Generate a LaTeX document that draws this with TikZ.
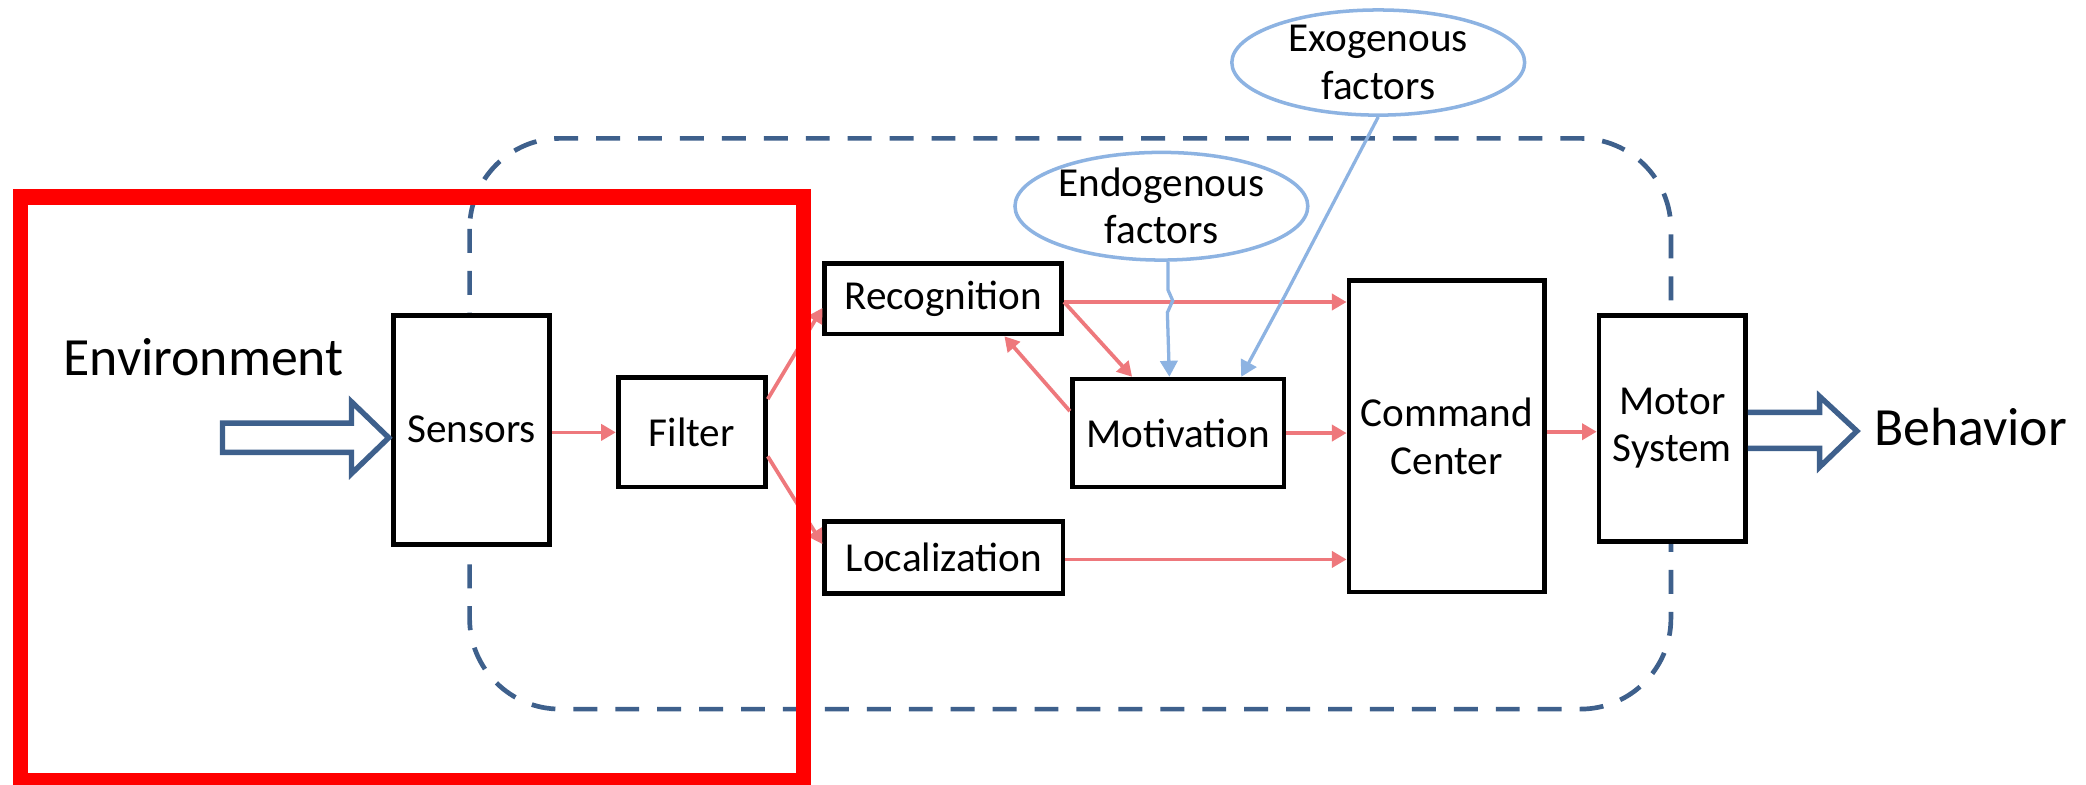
\documentclass[tikz,border=0pt]{standalone}
\usepackage{fontspec}
\setmainfont{Carlito}
\usetikzlibrary{shapes.geometric,arrows.meta,calc}

\definecolor{salmonline}{RGB}{238,120,124}
\definecolor{skyline}{RGB}{141,179,226}
\definecolor{navyline}{RGB}{62,96,140}
\definecolor{framered}{RGB}{255,0,0}

\newcommand{\blockfont}{\fontsize{8.8}{10.1}\selectfont}
\newcommand{\tagfont}{\fontsize{11.5}{13}\selectfont}

\tikzset{
  block/.style={draw=black, line width=1pt, fill=white, inner sep=0pt,
    align=center, font=\blockfont},
  factor/.style={ellipse, draw=skyline, line width=0.75pt, fill=white,
    inner sep=0pt, align=center, font=\blockfont},
  tag/.style={inner sep=0pt, font=\tagfont},
  flow/.style={draw=salmonline, line width=0.8pt,
    -{Triangle[length=0.11cm,width=0.12cm]}},
  influence/.style={draw=skyline, line width=0.7pt,
    -{Triangle[length=0.12cm,width=0.13cm]}},
  hollow/.style={draw=navyline, line width=1.15pt, line join=miter},
  organism/.style={draw=navyline, line width=1pt,
    dash pattern=on 0.18cm off 0.135cm, rounded corners=0.68cm},
}

\begin{document}
\begin{tikzpicture}[x=0.01cm, y=-0.01cm]
  \clip (0,0) rectangle (1568,590);
  \fill[white] (0,0) rectangle (1568,590);

  % boundary of the organism
  \draw[organism] (353,104) rectangle (1256,533);

  % processing blocks
  \node[block, minimum width=1.17cm, minimum height=1.72cm] (sensors) at (354.5,323) {Sensors};
  \node[block, minimum width=1.106cm, minimum height=0.82cm] (filter) at (520,325) {Filter};
  \node[block, minimum width=1.78cm, minimum height=0.53cm] (recog) at (709,224.5) {Recognition};
  \node[block, minimum width=1.79cm, minimum height=0.54cm] (local) at (709.5,419) {Localization};
  \node[block, minimum width=1.59cm, minimum height=0.81cm] (motiv) at (885.5,325.5) {Motivation};
  \node[block, minimum width=1.47cm, minimum height=2.34cm] (cmd) at (1087.5,328) {Command\\Center};
  \node[block, minimum width=1.10cm, minimum height=1.70cm] (motor) at (1257,322) {Motor\\System};

  % factors acting on motivation
  \node[factor, minimum width=2.2cm, minimum height=0.77cm] (endo) at (873,155) {Endogenous\\factors};
  \node[factor, minimum width=2.2cm, minimum height=0.79cm] (exo) at (1036,47) {Exogenous\\factors};

  % input and output labels
  \node[tag, anchor=base] (env) at (153,282) {Environment};
  \node[tag, anchor=base west] (behav) at (1408,334.5) {Behavior};

  % information flow
  \draw[flow] (sensors.east |- filter.west) -- (filter.west);
  \draw[flow] ($(filter.east)+(0,-25)$) -- ($(recog.west)+(0,7)$);
  \draw[flow] ($(filter.east)+(0,18)$) -- ($(local.west)+(0,-10)$);
  \coordinate (r0) at ($(recog.east)+(0,2.5)$);
  \draw[flow] (r0) -- (r0 -| cmd.west);
  \draw[flow] (r0) -- ($(motiv.north)+(-34.5,0)$);
  \draw[flow] ($(motiv.west)+(0,-16.5)$) -- ($(recog.south)+(46,0)$);
  \draw[flow] (motiv.east) -- (motiv.east -| cmd.west);
  \coordinate (l0) at ($(local.east)+(0,1.5)$);
  \draw[flow] (l0) -- (l0 -| cmd.west);
  \coordinate (c0) at ($(cmd.east)+(0,-3.5)$);
  \draw[flow] (c0) -- (c0 -| motor.west);

  % factor influences
  \draw[influence] ($(endo.south)+(5,0)$) -- (878,218) -- (881.5,226) -- (877.5,235)
    -- ($(motiv.north)+(-6.5,0)$);
  \draw[influence] (exo.south) -- (966,222) -- ($(motiv.north)+(47.5,0)$);

  % hollow arrow from the environment into the sensors
  \coordinate (etip) at ($(sensors.west)+(-2,6)$);
  \draw[hollow] (etip) -- ++(-28,-27) -- ++(0,16) -- ++(-97,0) -- ++(0,22)
    -- ++(97,0) -- ++(0,16) -- cycle;

  % hollow arrow from the motor system out to behaviour
  \coordinate (btail) at ($(motor.east)+(0,-12)$);
  \draw[hollow] (btail) -- ++(54,0) -- ++(0,-12) -- ++(28,26) -- ++(-28,27)
    -- ++(0,-14) -- ++(-54,0);

  % highlight frame around the sensory stage
  \draw[framered, line width=0.115cm] (15.5,148) rectangle (604,587);
\end{tikzpicture}
\end{document}
